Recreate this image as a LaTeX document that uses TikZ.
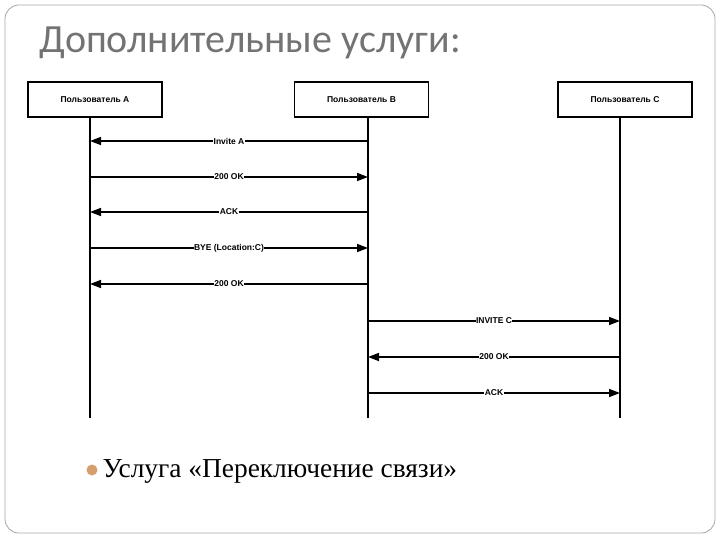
\documentclass[tikz,border=0pt]{standalone}
\usepackage{fontspec}
\setmainfont{Liberation Serif}
\newfontfamily\sansf{Liberation Sans}
\newfontfamily\titlef{Carlito}
\usetikzlibrary{arrows.meta}
\begin{document}
\begin{tikzpicture}[x=1pt,y=-1pt,
  actor/.style={draw,line width=1.6pt,minimum width=134pt,minimum height=35pt,inner sep=0pt,font=\sansf\bfseries\fontsize{8.5}{9}\selectfont},
  life/.style={line width=1.6pt},
  msg/.style={line width=1.6pt,-{Triangle[length=11pt,width=8pt]}},
  lab/.style={fill=white,inner sep=0.5pt,font=\sansf\bfseries\fontsize{8.5}{9}\selectfont}]
\useasboundingbox (0,0) rectangle (720,540);
\draw[rounded corners=14pt,line width=0.8pt,gray!70] (5,5) rectangle (715,533);
\node[anchor=west,text=gray!90!black,font=\titlef\fontsize{40}{44}\selectfont] (t) at (36,43) {Дополнительные услуги:};
\node[actor] (A) at (95,99.5) {Пользователь A};
\node[actor] (B) at (361.5,99.5) {Пользователь B};
\node[actor] (C) at (625,99.5) {Пользователь C};
\coordinate (a0) at (90,117); \coordinate (a1) at (90,418);
\coordinate (b0) at (368,117); \coordinate (b1) at (368,418);
\coordinate (c0) at (620,117); \coordinate (c1) at (620,418);
\draw[life] (a0)--(a1); \draw[life] (b0)--(b1); \draw[life] (c0)--(c1);
\foreach \y/\f/\t/\l in {141/368/90/Invite A,177/90/368/200 OK,212/368/90/ACK,248/90/368/{BYE (Location:C)},284/368/90/200 OK,321/368/620/INVITE C,357/620/368/200 OK,393/368/620/ACK}{
  \coordinate (s) at (\f,\y); \coordinate (e) at (\t,\y);
  \draw[msg] (s) -- node[lab]{\l} (e);
}
\fill[color={rgb,255:red,214;green,160;blue,110}] (92,470) circle (5.5pt);
\node[anchor=west,font=\fontsize{27.4}{31}\selectfont] (u) at (99,471) {Услуга «Переключение связи»};
\end{tikzpicture}
\end{document}
